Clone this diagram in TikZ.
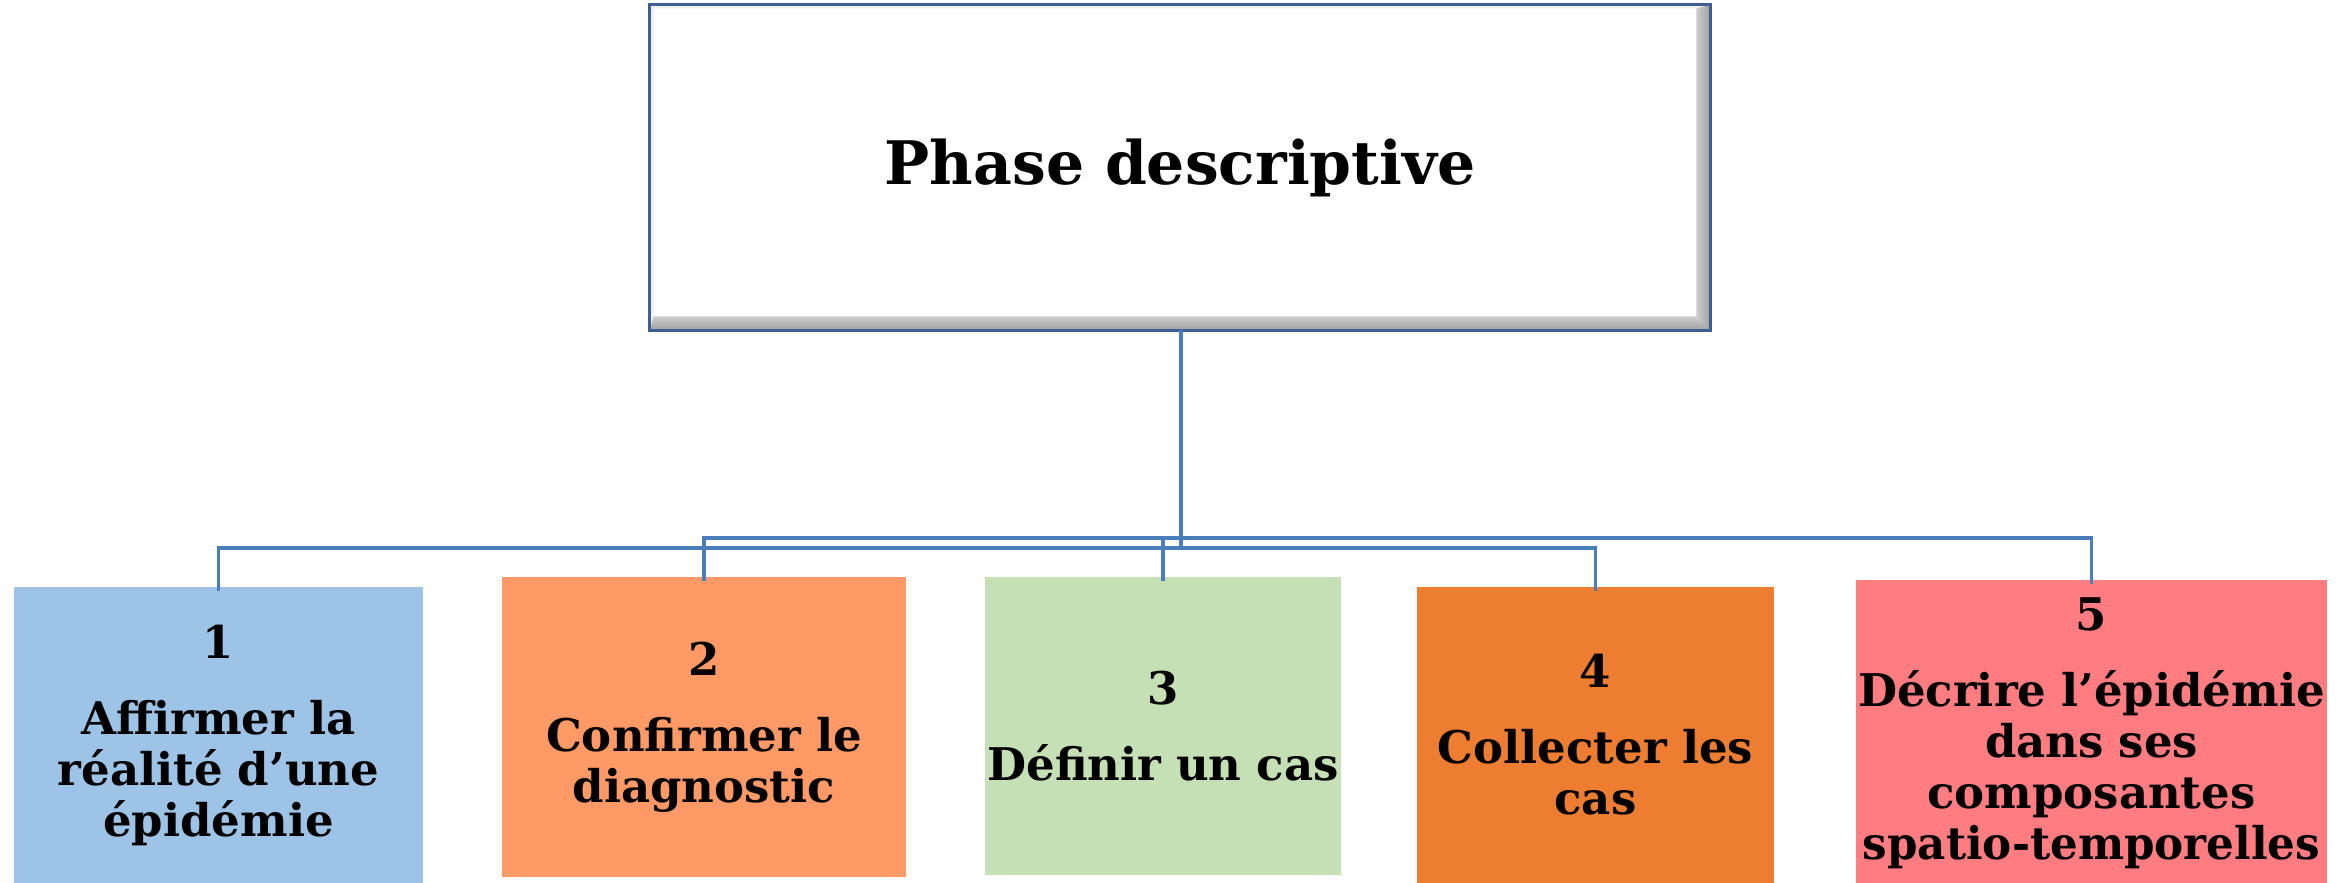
\documentclass[tikz,border=0pt]{standalone}
\usepackage{fontspec}
\setmainfont{DejaVu Serif}
\usetikzlibrary{calc}
\definecolor{navyb}{RGB}{63,94,150}
\definecolor{connc}{RGB}{74,126,187}
\definecolor{cA}{RGB}{157,195,230}
\definecolor{cB}{RGB}{255,153,102}
\definecolor{cC}{RGB}{197,224,180}
\definecolor{cD}{RGB}{237,125,49}
\definecolor{cE}{RGB}{255,124,128}
\tikzset{
  topbox/.style={rectangle, fill=white, draw=none, minimum width=530pt, minimum height=162.5pt,
    inner sep=0pt, font=\fontsize{30}{32}\selectfont\bfseries},
  stepbox/.style={rectangle, draw=none, inner sep=0pt, align=center,
    font=\fontsize{22.5}{25.5}\selectfont\bfseries},
  conn/.style={draw=connc, line width=1.6pt},
}
\begin{document}
\begin{tikzpicture}[x=0.5pt, y=-0.5pt]
\useasboundingbox (0,0) rectangle (2352,883);
% top box
\node[topbox] (top) at (1180,167.5) {Phase descriptive};
\fill[gray!12] (top.north west) -- (top.north east) -- ([shift={(-12,4)}]top.north east) -- ([shift={(4,4)}]top.north west) -- cycle;
\fill[gray!12] (top.north west) -- ([shift={(4,4)}]top.north west) -- ([shift={(4,-12)}]top.south west) -- (top.south west) -- cycle;
\shade[top color=gray!40, bottom color=gray!75] (top.south west) -- (top.south east) -- ([shift={(-14,-14)}]top.south east) -- ([shift={(4,-14)}]top.south west) -- cycle;
\shade[left color=gray!40, right color=gray!75] (top.north east) -- (top.south east) -- ([shift={(-14,-14)}]top.south east) -- ([shift={(-14,4)}]top.north east) -- cycle;
\draw[navyb, line width=1.5pt] (top.south west) rectangle (top.north east);
% step boxes
\node[stepbox, fill=cA, minimum width=204.5pt, minimum height=148pt, text width=204.5pt] (b1) at (218.5,735)
  {1\\[12.5pt]Affirmer la\\réalité d’une\\épidémie};
\node[stepbox, fill=cB, minimum width=202pt, minimum height=150pt, text width=202pt] (b2) at (704,727)
  {2\\[12.5pt]Confirmer le\\diagnostic};
\node[stepbox, fill=cC, minimum width=178pt, minimum height=149pt, text width=178pt] (b3) at (1163,726)
  {3\\[12.5pt]\makebox[\linewidth][c]{Définir un cas}};
\node[stepbox, fill=cD, minimum width=178.5pt, minimum height=148pt, text width=178.5pt] (b4) at (1595.5,735)
  {4\\[12.5pt]Collecter les\\cas};
\node[stepbox, fill=cE, minimum width=235.5pt, minimum height=153pt, text width=235.5pt] (b5) at (2091.5,733)
  {5\\[12.5pt]\makebox[\linewidth][c]{Décrire l’épidémie}\\dans ses\\composantes\\\makebox[\linewidth][c]{\scalebox{0.97}[1]{spatio-temporelles}}};
% connectors
\coordinate (jlow) at (1181,548);
\coordinate (jup) at (1181,538);
\draw[conn] (top.south -| jlow) -- (jlow);
\draw[conn] (jlow) -| ([yshift=-2pt]b1.north);
\draw[conn] (jlow) -| ([yshift=-2pt]b4.north);
\draw[conn] (jup) -| ([yshift=-2pt]b2.north);
\draw[conn] (jup) -| ([yshift=-2pt]b3.north);
\draw[conn] (jup) -| ([yshift=-2pt]b5.north);
\end{tikzpicture}
\end{document}
